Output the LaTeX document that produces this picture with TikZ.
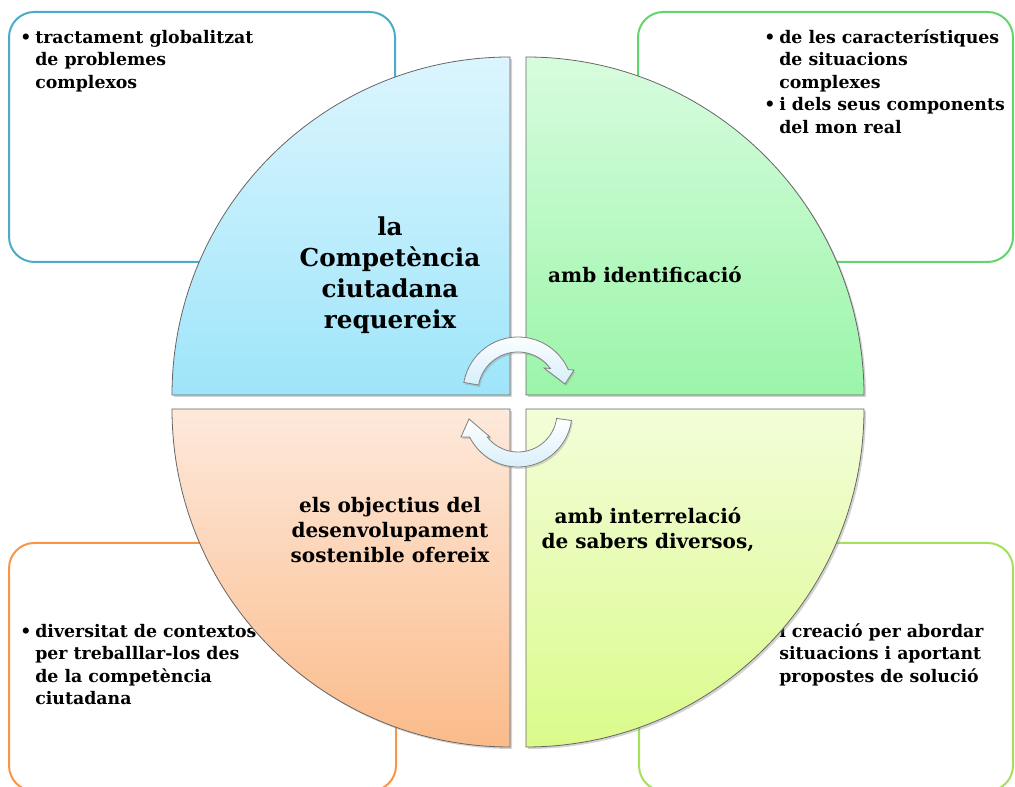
\documentclass[tikz,border=0pt]{standalone}
\usepackage{fontspec}
\setmainfont{DejaVu Serif}
\usetikzlibrary{shadows,calc}
\definecolor{boxteal}{HTML}{4BACC6}
\definecolor{boxgreen}{HTML}{62D66E}
\definecolor{boxorange}{HTML}{F79646}
\definecolor{boxlime}{HTML}{A4E05C}
\definecolor{tltop}{HTML}{DCF5FE}
\definecolor{tlbot}{HTML}{9EE5FA}
\definecolor{trtop}{HTML}{D8FCDE}
\definecolor{trbot}{HTML}{9BF5A9}
\definecolor{bltop}{HTML}{FDE9DB}
\definecolor{blbot}{HTML}{FBBB8A}
\definecolor{brtop}{HTML}{F3FDD9}
\definecolor{brbot}{HTML}{DAFB8A}
\definecolor{arrowblue}{HTML}{D6EEFA}

\begin{document}
\begin{tikzpicture}[x=0.75pt,y=0.75pt,
    box/.style      = {draw, line width=1.5pt, rounded corners=19pt},
    bullets/.style  = {anchor=north west, inner sep=0pt,
      font=\fontsize{13}{16.9}\selectfont\bfseries},
    heading/.style  = {align=center, inner sep=0pt,
      font=\fontsize{15}{18.75}\selectfont\bfseries},
    quarter/.style  = {draw=black!60, line width=0.6pt,
      drop shadow={shadow xshift=1.5pt, shadow yshift=-1.5pt, opacity=0.35}},
    cyclearrow/.style = {draw=black!50, line width=0.6pt,
      top color=white, bottom color=arrowblue,
      drop shadow={shadow xshift=1pt, shadow yshift=-1.5pt, opacity=0.3}}
  ]
  \useasboundingbox (0,0) rectangle (1015,787);
  \clip (0,0) rectangle (1015,787);

  % outer boxes
  \draw[box, boxteal]   (9,525) rectangle (395,775);
  \draw[box, boxgreen]  (638,525) rectangle (1013,775);
  \draw[box, boxorange] (9,-4) rectangle (396,244);
  \draw[box, boxlime]   (639,-4) rectangle (1013,244);

  \node[bullets] (global) at (20,760) {\begin{tabular}{@{}l@{\hspace{3pt}}l@{}}
      \textbullet & tractament globalitzat\\ & de problemes\\ & complexos\end{tabular}};
  \node[bullets] (traits) at (764,760) {\begin{tabular}{@{}l@{\hspace{3pt}}l@{}}
      \textbullet & de les característiques\\ & de situacions\\ & complexes\\
      \textbullet & i dels seus components\\ & del mon real\end{tabular}};
  \node[bullets] (contexts) at (20,166) {\begin{tabular}{@{}l@{\hspace{3pt}}l@{}}
      \textbullet & diversitat de contextos\\ & per treballlar-los des\\
      & de la competència\\ & ciutadana\end{tabular}};
  \node[bullets] (creation) at (764,166) {\begin{tabular}{@{}l@{\hspace{3pt}}l@{}}
      \textbullet & i creació per abordar\\ & situacions i aportant\\
      & propostes de solució\end{tabular}};

  % four quarters
  \path[quarter, top color=tltop, bottom color=tlbot]
    (510,392) -- (172,392) arc[start angle=180, end angle=90, radius=338] -- cycle;
  \path[quarter, top color=trtop, bottom color=trbot]
    (526,392) -- (526,730) arc[start angle=90, end angle=0, radius=338] -- cycle;
  \path[quarter, top color=bltop, bottom color=blbot]
    (510,378) -- (510,40) arc[start angle=270, end angle=180, radius=338] -- cycle;
  \path[quarter, top color=brtop, bottom color=brbot]
    (526,378) -- (864,378) arc[start angle=0, end angle=-90, radius=338] -- cycle;

  \node[heading, font=\fontsize{18.5}{23.25}\selectfont\bfseries] (req) at (390,512)
    {la\\Competència\\ciutadana\\requereix};
  \node[heading] (ident) at (645,512) {amb identificació};
  \node[heading] (ods) at (390,257) {els objectius del\\desenvolupament\\sostenible ofereix};
  \node[heading] (inter) at (648,257) {amb interrelació\\de sabers diversos,};

  % cycle arrows
  \path[cyclearrow] ($(518,395)+(170:55)$) arc[start angle=170, end angle=24, radius=55]
    -- (574,417) -- (565,403) -- (544,419)
    -- ($(518,395)+(36:40)$) arc[start angle=36, end angle=170, radius=40] -- cycle;
  \path[cyclearrow] ($(518,374)+(-8:54)$) arc[start angle=-8, end angle=-153.6, radius=54]
    -- (461,350) -- (469,368) -- (490,350)
    -- ($(518,374)+(-142:39)$) arc[start angle=-142, end angle=-8, radius=39] -- cycle;
\end{tikzpicture}
\end{document}
